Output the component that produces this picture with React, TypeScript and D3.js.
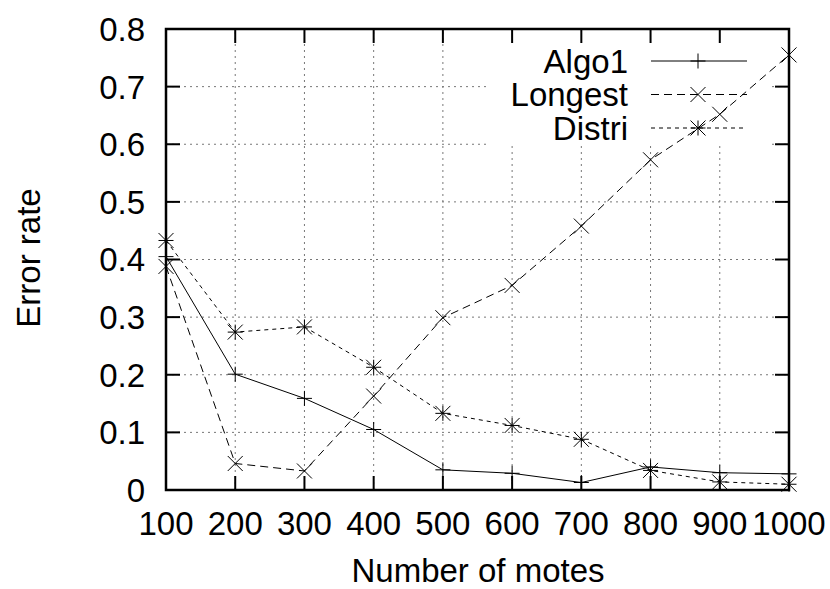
import React, { useEffect, useRef } from 'react';
import * as d3 from 'd3';

const motes = [100, 200, 300, 400, 500, 600, 700, 800, 900, 1000];
const algo1 = [0.405, 0.201, 0.159, 0.105, 0.035, 0.029, 0.013, 0.04, 0.03, 0.028];
const longest = [0.388, 0.046, 0.033, 0.163, 0.299, 0.355, 0.458, 0.573, 0.652, 0.755];
const distri = [0.433, 0.274, 0.283, 0.213, 0.133, 0.112, 0.088, 0.034, 0.014, 0.01];
const yTicks = [0, 0.1, 0.2, 0.3, 0.4, 0.5, 0.6, 0.7, 0.8];
const seriesNames = ['Algo1', 'Longest', 'Distri'];

const App = () => {
  const svgRef = useRef<SVGSVGElement>(null);

  useEffect(() => {
    const svg = d3.select(svgRef.current);
    svg.selectAll('*').remove();

    const width = 830;
    const height = 589;
    const margin = { top: 29, right: 41, bottom: 99, left: 166 };
    const font = 'Liberation Sans, Arial, sans-serif';

    svg.attr('width', width).attr('height', height);
    svg.append('rect').attr('width', width).attr('height', height).attr('fill', '#fff');

    const x = d3.scaleLinear().domain([100, 1000]).range([margin.left, width - margin.right]);
    const y = d3.scaleLinear().domain([0, 0.8]).range([height - margin.bottom, margin.top]);

    const x0 = x(100), x1 = x(1000), y0 = y(0), y1 = y(0.8);

    // grid
    const grid = svg.append('g').attr('stroke', '#777').attr('stroke-width', 1).attr('stroke-dasharray', '2,4');
    grid.selectAll('.gx').data(motes.slice(1, -1)).enter().append('line')
      .attr('x1', (d) => x(d)).attr('x2', (d) => x(d)).attr('y1', y0).attr('y2', y1);
    grid.selectAll('.gy').data(yTicks.slice(1, -1)).enter().append('line')
      .attr('x1', x0).attr('x2', x1).attr('y1', (d) => y(d)).attr('y2', (d) => y(d));

    // legend box covers grid
    svg.append('rect').attr('x', 488).attr('y', 31).attr('width', 280).attr('height', 114).attr('fill', '#fff');

    // ticks
    const tl = 14;
    const ticks = svg.append('g').attr('stroke', '#000').attr('stroke-width', 2);
    motes.forEach((d) => {
      ticks.append('line').attr('x1', x(d)).attr('x2', x(d)).attr('y1', y0).attr('y2', y0 - tl);
      ticks.append('line').attr('x1', x(d)).attr('x2', x(d)).attr('y1', y1).attr('y2', y1 + tl);
    });
    yTicks.forEach((d) => {
      ticks.append('line').attr('x1', x0).attr('x2', x0 + tl).attr('y1', y(d)).attr('y2', y(d));
      ticks.append('line').attr('x1', x1).attr('x2', x1 - tl).attr('y1', y(d)).attr('y2', y(d));
    });

    // tick labels
    svg.append('g').selectAll('text').data(yTicks).enter().append('text')
      .attr('x', x0 - 21).attr('y', (d) => y(d)).attr('dy', '0.36em')
      .attr('text-anchor', 'end').attr('font-family', font).attr('font-size', 33)
      .text((d) => (d === 0 ? '0' : d3.format('.1f')(d)));
    svg.append('g').selectAll('text').data(motes).enter().append('text')
      .attr('x', (d) => x(d)).attr('y', 535)
      .attr('text-anchor', 'middle').attr('font-family', font).attr('font-size', 33)
      .text((d) => d);

    // axis titles
    svg.append('text').attr('x', 478).attr('y', 582).attr('text-anchor', 'middle')
      .attr('font-family', font).attr('font-size', 33).text('Number of motes');
    svg.append('text').attr('transform', `translate(40,258) rotate(-90)`).attr('text-anchor', 'middle')
      .attr('font-family', font).attr('font-size', 33).text('Error rate');

    const series = [
      { name: seriesNames[0], values: algo1, dash: null, mark: 'plus' },
      { name: seriesNames[1], values: longest, dash: '8,5', mark: 'cross' },
      { name: seriesNames[2], values: distri, dash: '4,4', mark: 'star' },
    ];

    const s = 7.5;
    const drawMark = (g, type, cx, cy) => {
      if (type === 'plus' || type === 'star') {
        g.append('line').attr('x1', cx - s).attr('x2', cx + s).attr('y1', cy).attr('y2', cy);
        g.append('line').attr('x1', cx).attr('x2', cx).attr('y1', cy - s).attr('y2', cy + s);
      }
      if (type === 'cross' || type === 'star') {
        g.append('line').attr('x1', cx - s).attr('x2', cx + s).attr('y1', cy - s).attr('y2', cy + s);
        g.append('line').attr('x1', cx - s).attr('x2', cx + s).attr('y1', cy + s).attr('y2', cy - s);
      }
    };

    const line = d3.line<number>().x((d, i) => x(motes[i])).y((d) => y(d));

    series.forEach((ser, k) => {
      svg.append('path').datum(ser.values).attr('d', line)
        .attr('fill', 'none').attr('stroke', '#000').attr('stroke-width', 1)
        .attr('stroke-dasharray', ser.dash);
      const mg = svg.append('g').attr('stroke', '#000').attr('stroke-width', 1);
      ser.values.forEach((v, i) => drawMark(mg, ser.mark, x(motes[i]), y(v)));

      // legend entry
      const ly = 61 + k * 33.5;
      svg.append('text').attr('x', 628).attr('y', ly).attr('dy', '0.35em')
        .attr('text-anchor', 'end').attr('font-family', font).attr('font-size', 33).text(ser.name);
      svg.append('line').attr('x1', 651).attr('x2', 747).attr('y1', ly).attr('y2', ly)
        .attr('stroke', '#000').attr('stroke-width', 1).attr('stroke-dasharray', ser.dash);
      const lg = svg.append('g').attr('stroke', '#000').attr('stroke-width', 1);
      drawMark(lg, ser.mark, 698, ly);
    });

    // border
    svg.append('rect').attr('x', x0).attr('y', y1).attr('width', x1 - x0).attr('height', y0 - y1)
      .attr('fill', 'none').attr('stroke', '#000').attr('stroke-width', 2.5);
  }, []);

  return (
    <svg ref={svgRef} style={{ position: 'absolute', left: 0, top: 0 }}></svg>
  );
};

export default App;
